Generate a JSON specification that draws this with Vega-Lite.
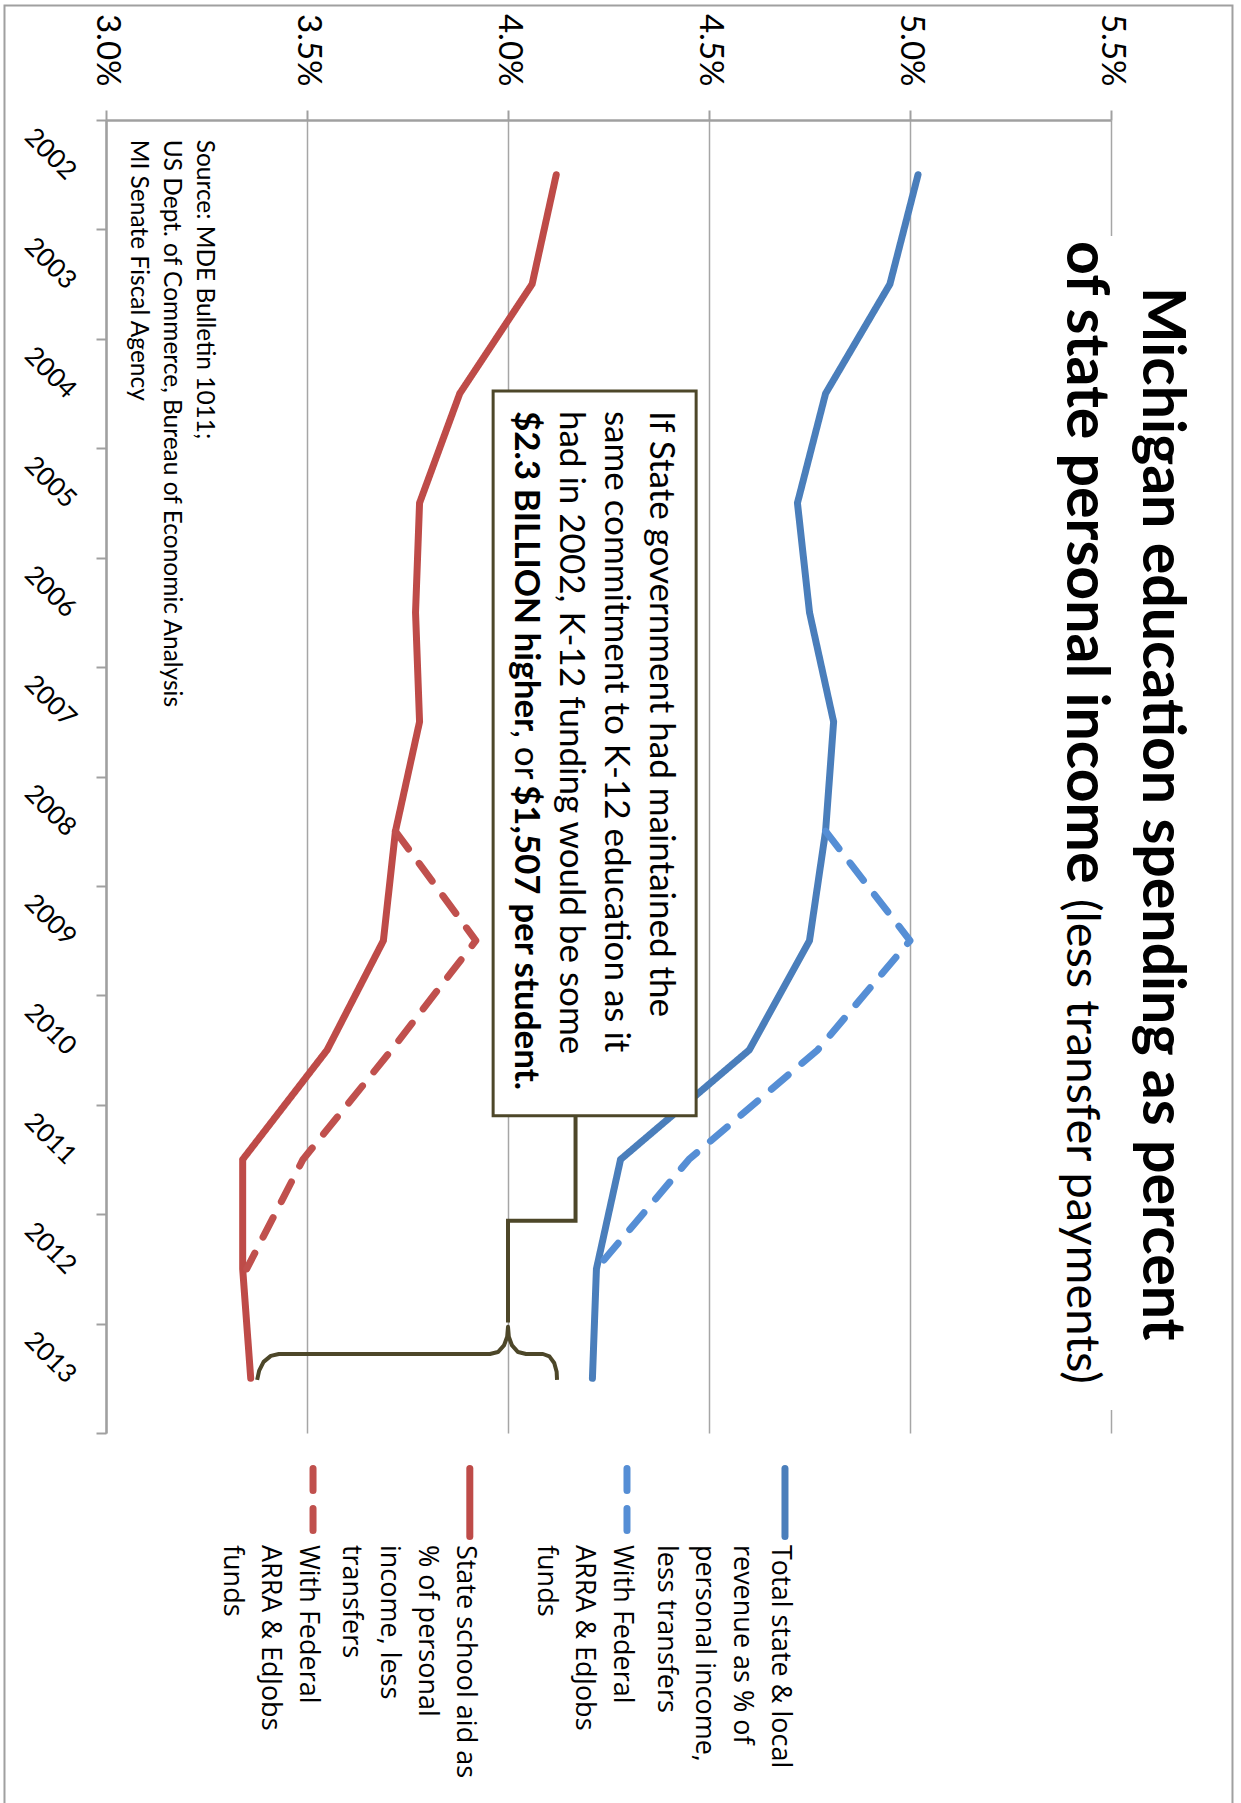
{
  "$schema": "https://vega.github.io/schema/vega-lite/v6.json",
  "width": 1005,
  "height": 1313,
  "autosize": {"type": "none"},
  "padding": {"left": 106, "top": 120, "right": 130, "bottom": 370},
  "background": "white",
  "config": {"view": {"stroke": null}, "font": "Lato", "text": {"color": "black"}},
  "datasets": {
    "series": [
      {"series": "Total", "year": 2002, "value": 5.02},
      {"series": "Total", "year": 2003, "value": 4.95},
      {"series": "Total", "year": 2004, "value": 4.79},
      {"series": "Total", "year": 2005, "value": 4.72},
      {"series": "Total", "year": 2006, "value": 4.75},
      {"series": "Total", "year": 2007, "value": 4.81},
      {"series": "Total", "year": 2008, "value": 4.79},
      {"series": "Total", "year": 2009, "value": 4.75},
      {"series": "Total", "year": 2010, "value": 4.60},
      {"series": "Total", "year": 2011, "value": 4.28},
      {"series": "Total", "year": 2012, "value": 4.22},
      {"series": "Total", "year": 2013, "value": 4.21},
      {"series": "TotalFed", "year": 2008, "value": 4.79},
      {"series": "TotalFed", "year": 2009, "value": 5.00},
      {"series": "TotalFed", "year": 2010, "value": 4.77},
      {"series": "TotalFed", "year": 2011, "value": 4.45},
      {"series": "TotalFed", "year": 2012, "value": 4.22},
      {"series": "Aid", "year": 2002, "value": 4.12},
      {"series": "Aid", "year": 2003, "value": 4.06},
      {"series": "Aid", "year": 2004, "value": 3.88},
      {"series": "Aid", "year": 2005, "value": 3.78},
      {"series": "Aid", "year": 2006, "value": 3.77},
      {"series": "Aid", "year": 2007, "value": 3.78},
      {"series": "Aid", "year": 2008, "value": 3.72},
      {"series": "Aid", "year": 2009, "value": 3.69},
      {"series": "Aid", "year": 2010, "value": 3.55},
      {"series": "Aid", "year": 2011, "value": 3.34},
      {"series": "Aid", "year": 2012, "value": 3.34},
      {"series": "Aid", "year": 2013, "value": 3.36},
      {"series": "AidFed", "year": 2008, "value": 3.72},
      {"series": "AidFed", "year": 2009, "value": 3.92},
      {"series": "AidFed", "year": 2010, "value": 3.71},
      {"series": "AidFed", "year": 2011, "value": 3.49},
      {"series": "AidFed", "year": 2012, "value": 3.35}
    ],
    "brace": [
      {"i": 1, "value": 3.376, "year": 2013.015},
      {"i": 2, "value": 3.381, "year": 2012.93},
      {"i": 3, "value": 3.392, "year": 2012.85},
      {"i": 4, "value": 3.41, "year": 2012.795},
      {"i": 5, "value": 3.43, "year": 2012.778},
      {"i": 6, "value": 3.955, "year": 2012.778},
      {"i": 7, "value": 3.975, "year": 2012.76},
      {"i": 8, "value": 3.99, "year": 2012.70},
      {"i": 9, "value": 3.998, "year": 2012.62},
      {"i": 10, "value": 4.0, "year": 2012.53},
      {"i": 11, "value": 4.002, "year": 2012.62},
      {"i": 12, "value": 4.01, "year": 2012.70},
      {"i": 13, "value": 4.025, "year": 2012.76},
      {"i": 14, "value": 4.045, "year": 2012.778},
      {"i": 15, "value": 4.087, "year": 2012.778},
      {"i": 16, "value": 4.103, "year": 2012.80},
      {"i": 17, "value": 4.115, "year": 2012.86},
      {"i": 18, "value": 4.121, "year": 2012.94},
      {"i": 19, "value": 4.122, "year": 2013.015}
    ],
    "connector": [
      {"i": 1, "value": 4.0, "year": 2012.49},
      {"i": 2, "value": 4.0, "year": 2011.56},
      {"i": 3, "value": 4.168, "year": 2011.56},
      {"i": 4, "value": 4.168, "year": 2010.60}
    ]
  },
  "layer": [
    {
      "data": {"name": "series"},
      "mark": {"type": "line", "strokeWidth": 7, "strokeCap": "round", "strokeJoin": "round"},
      "encoding": {
        "x": {
          "field": "value", "type": "quantitative",
          "scale": {"domain": [3, 5.5], "nice": false, "zero": false},
          "axis": {
            "orient": "top", "values": [3, 3.5, 4, 4.5, 5, 5.5],
            "labelExpr": "format(datum.value, '.1f') + '%'",
            "labelAngle": 90, "labelAlign": "right", "labelBaseline": "middle",
            "labelFont": "Lato", "labelFontSize": 33, "labelColor": "black",
            "labelPadding": 24, "labelFlush": false, "labelOverlap": false,
            "tickSize": 10, "tickColor": "#a0a0a0", "tickWidth": 2,
            "domainColor": "#a0a0a0", "domainWidth": 2.5,
            "grid": true, "gridColor": "#a6a6a6", "gridWidth": 1.5,
            "title": null
          }
        },
        "y": {
          "field": "year", "type": "quantitative",
          "scale": {"domain": [2001.5, 2013.5], "nice": false, "zero": false, "reverse": true},
          "axis": {
            "orient": "left",
            "values": [2001.5, 2002.5, 2003.5, 2004.5, 2005.5, 2006.5, 2007.5, 2008.5, 2009.5, 2010.5, 2011.5, 2012.5, 2013.5],
            "labelExpr": "datum.value < 2013 ? format(datum.value + 0.5, 'd') : ''",
            "labelAngle": 45, "labelAlign": "right", "labelBaseline": "middle",
            "labelOffset": 55, "labelPadding": 25,
            "labelFont": "Lato", "labelFontSize": 26, "labelColor": "black",
            "labelFlush": false, "labelOverlap": false,
            "tickSize": 10, "tickColor": "#a0a0a0", "tickWidth": 2,
            "domainColor": "#a0a0a0", "domainWidth": 2.5,
            "grid": false, "title": null
          }
        },
        "order": {"field": "year", "type": "quantitative"},
        "color": {
          "field": "series", "type": "nominal",
          "scale": {"domain": ["Total", "TotalFed", "Aid", "AidFed"], "range": ["#4A7EBB", "#558ED5", "#BE4B48", "#C0504D"]},
          "legend": null
        },
        "strokeDash": {
          "field": "series", "type": "nominal",
          "scale": {"domain": ["Total", "TotalFed", "Aid", "AidFed"], "range": [[1, 0], [22, 18], [1, 0], [22, 18]]},
          "legend": null
        }
      }
    },
    {
      "data": {"values": [{}]},
      "mark": {"type": "rect", "fillOpacity": 0, "stroke": "#a0a0a0", "strokeWidth": 2},
      "encoding": {
        "x": {"datum": 2.7475, "type": "quantitative"},
        "x2": {"datum": 5.8022},
        "y": {"datum": 2000.4536, "type": "quantitative"},
        "y2": {"datum": 2017.2}
      }
    },
    {
      "data": {"values": [{}]},
      "mark": {"type": "rect", "fill": "white"},
      "encoding": {
        "x": {"datum": 5.336, "type": "quantitative"},
        "x2": {"datum": 5.721},
        "y": {"datum": 2002.56, "type": "quantitative"},
        "y2": {"datum": 2013.29}
      }
    },
    {
      "data": {"values": [{}]},
      "mark": {"type": "text", "angle": 90, "align": "left", "baseline": "alphabetic", "font": "Lato", "fontSize": 59, "fontWeight": "bold", "color": "black"},
      "encoding": {
        "x": {"datum": 5.580, "type": "quantitative"},
        "y": {"datum": 2003.026, "type": "quantitative"},
        "text": {"value": "Michigan education spending as percent"}
      }
    },
    {
      "data": {"values": [{}]},
      "mark": {"type": "text", "angle": 90, "align": "left", "baseline": "alphabetic", "font": "Lato", "fontSize": 59, "fontWeight": "bold", "color": "black"},
      "encoding": {
        "x": {"datum": 5.391, "type": "quantitative"},
        "y": {"datum": 2002.606, "type": "quantitative"},
        "text": {"value": "of state personal income"}
      }
    },
    {
      "data": {"values": [{}]},
      "mark": {"type": "text", "angle": 90, "align": "left", "baseline": "alphabetic", "font": "Lato", "fontSize": 47, "color": "black"},
      "encoding": {
        "x": {"datum": 5.391, "type": "quantitative"},
        "y": {"datum": 2008.62, "type": "quantitative"},
        "text": {"value": "(less transfer payments)"}
      }
    },
    {
      "data": {"values": [{}]},
      "mark": {"type": "text", "angle": 90, "align": "left", "baseline": "alphabetic", "font": "Lato", "fontSize": 24.5, "lineHeight": 33, "color": "black"},
      "encoding": {
        "x": {"datum": 3.226, "type": "quantitative"},
        "y": {"datum": 2001.68, "type": "quantitative"},
        "text": {"value": ["Source: MDE Bulletin 1011;", "US Dept. of Commerce, Bureau of Economic Analysis", "MI Senate Fiscal Agency"]}
      }
    },
    {
      "data": {"values": [{}]},
      "mark": {"type": "rect", "fill": "white", "stroke": "#4D4729", "strokeWidth": 3},
      "encoding": {
        "x": {"datum": 3.963, "type": "quantitative"},
        "x2": {"datum": 4.468},
        "y": {"datum": 2003.977, "type": "quantitative"},
        "y2": {"datum": 2010.60}
      }
    },
    {
      "data": {"values": [{}]},
      "mark": {"type": "text", "angle": 90, "align": "left", "baseline": "alphabetic", "font": "Lato", "fontSize": 35, "lineHeight": 45, "color": "black"},
      "encoding": {
        "x": {"datum": 4.353, "type": "quantitative"},
        "y": {"datum": 2004.159, "type": "quantitative"},
        "text": {"value": ["If State government had maintained the", "same commitment to K-12 education as it", "had in 2002, K-12 funding would be some"]}
      }
    },
    {
      "data": {"values": [{}]},
      "mark": {"type": "text", "angle": 90, "align": "left", "baseline": "alphabetic", "font": "Lato", "fontSize": 35, "fontWeight": "bold", "color": "black"},
      "encoding": {
        "x": {"datum": 4.017, "type": "quantitative"},
        "y": {"datum": 2004.159, "type": "quantitative"},
        "text": {"value": "$2.3 BILLION higher"}
      }
    },
    {
      "data": {"values": [{}]},
      "mark": {"type": "text", "angle": 90, "align": "left", "baseline": "alphabetic", "font": "Lato", "fontSize": 35, "dx": 319, "color": "black"},
      "encoding": {
        "x": {"datum": 4.017, "type": "quantitative"},
        "y": {"datum": 2004.159, "type": "quantitative"},
        "text": {"value": ", or"}
      }
    },
    {
      "data": {"values": [{}]},
      "mark": {"type": "text", "angle": 90, "align": "left", "baseline": "alphabetic", "font": "Lato", "fontSize": 35, "fontWeight": "bold", "dx": 374, "color": "black"},
      "encoding": {
        "x": {"datum": 4.017, "type": "quantitative"},
        "y": {"datum": 2004.159, "type": "quantitative"},
        "text": {"value": "$1,507 per student."}
      }
    },
    {
      "data": {"name": "brace"},
      "mark": {"type": "line", "color": "#4D4729", "strokeWidth": 4, "strokeJoin": "round"},
      "encoding": {
        "x": {"field": "value", "type": "quantitative"},
        "y": {"field": "year", "type": "quantitative"},
        "order": {"field": "i", "type": "quantitative"}
      }
    },
    {
      "data": {"name": "connector"},
      "mark": {"type": "line", "color": "#4D4729", "strokeWidth": 4},
      "encoding": {
        "x": {"field": "value", "type": "quantitative"},
        "y": {"field": "year", "type": "quantitative"},
        "order": {"field": "i", "type": "quantitative"}
      }
    },
    {
      "data": {"values": [{}]},
      "mark": {"type": "rule", "color": "#4A7EBB", "strokeWidth": 7, "strokeCap": "round"},
      "encoding": {
        "x": {"datum": 4.689, "type": "quantitative"},
        "y": {"datum": 2013.824, "type": "quantitative"},
        "y2": {"datum": 2014.445}
      }
    },
    {
      "data": {"values": [{}]},
      "mark": {"type": "rule", "color": "#558ED5", "strokeWidth": 7, "strokeCap": "round", "strokeDash": [22, 18]},
      "encoding": {
        "x": {"datum": 4.296, "type": "quantitative"},
        "y": {"datum": 2013.824, "type": "quantitative"},
        "y2": {"datum": 2014.445}
      }
    },
    {
      "data": {"values": [{}]},
      "mark": {"type": "rule", "color": "#BE4B48", "strokeWidth": 7, "strokeCap": "round"},
      "encoding": {
        "x": {"datum": 3.905, "type": "quantitative"},
        "y": {"datum": 2013.824, "type": "quantitative"},
        "y2": {"datum": 2014.445}
      }
    },
    {
      "data": {"values": [{}]},
      "mark": {"type": "rule", "color": "#C0504D", "strokeWidth": 7, "strokeCap": "round", "strokeDash": [22, 18]},
      "encoding": {
        "x": {"datum": 3.515, "type": "quantitative"},
        "y": {"datum": 2013.824, "type": "quantitative"},
        "y2": {"datum": 2014.445}
      }
    },
    {
      "data": {"values": [{}]},
      "mark": {"type": "text", "angle": 90, "align": "left", "baseline": "alphabetic", "font": "Open Sans", "fontSize": 27, "lineHeight": 38, "color": "black"},
      "encoding": {
        "x": {"datum": 4.657, "type": "quantitative"},
        "y": {"datum": 2014.523, "type": "quantitative"},
        "text": {"value": ["Total state & local", "revenue as % of", "personal income,", "less transfers"]}
      }
    },
    {
      "data": {"values": [{}]},
      "mark": {"type": "text", "angle": 90, "align": "left", "baseline": "alphabetic", "font": "Open Sans", "fontSize": 27, "lineHeight": 38, "color": "black"},
      "encoding": {
        "x": {"datum": 4.264, "type": "quantitative"},
        "y": {"datum": 2014.523, "type": "quantitative"},
        "text": {"value": ["With Federal", "ARRA & EdJobs", "funds"]}
      }
    },
    {
      "data": {"values": [{}]},
      "mark": {"type": "text", "angle": 90, "align": "left", "baseline": "alphabetic", "font": "Open Sans", "fontSize": 27, "lineHeight": 38, "color": "black"},
      "encoding": {
        "x": {"datum": 3.873, "type": "quantitative"},
        "y": {"datum": 2014.523, "type": "quantitative"},
        "text": {"value": ["State school aid as", "% of personal", "income, less", "transfers"]}
      }
    },
    {
      "data": {"values": [{}]},
      "mark": {"type": "text", "angle": 90, "align": "left", "baseline": "alphabetic", "font": "Open Sans", "fontSize": 27, "lineHeight": 38, "color": "black"},
      "encoding": {
        "x": {"datum": 3.483, "type": "quantitative"},
        "y": {"datum": 2014.523, "type": "quantitative"},
        "text": {"value": ["With Federal", "ARRA & EdJobs", "funds"]}
      }
    }
  ]
}
